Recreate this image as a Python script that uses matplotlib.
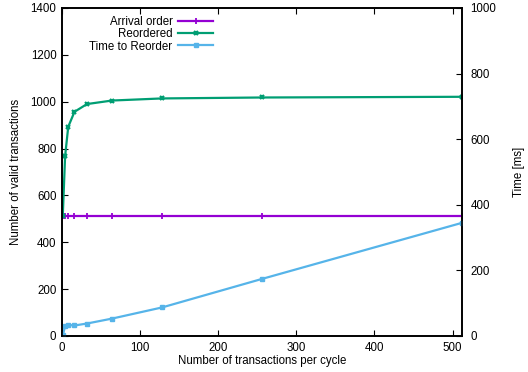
import matplotlib
matplotlib.use("Agg")
import matplotlib.pyplot as plt

plt.rcParams['font.family'] = ['Liberation Sans', 'DejaVu Sans']
plt.rcParams['font.size'] = 8.3

# transactions per cycle
tx_per_cycle = [1, 4, 8, 16, 32, 64, 128, 256, 512]
arrival_order = [512, 512, 512, 512, 512, 512, 512, 512, 512]
reordered = [512, 768, 893, 957, 990, 1005, 1014, 1018, 1021]
time_ms = [2, 30, 34, 32, 38, 53, 87, 174, 345]

purple = "#9400d3"
green = "#009e73"
blue = "#56b4e9"

fig = plt.figure(figsize=(5.28, 3.72), dpi=100)
ax = fig.add_axes([0.1174, 0.0968, 0.7576, 0.8817])
ax2 = ax.twinx()

l1, = ax.plot(tx_per_cycle, arrival_order, color=purple, lw=1.6, marker='+',
              ms=4, mew=1.3, label="Arrival order")
l2, = ax.plot(tx_per_cycle, reordered, color=green, lw=1.6, marker='x',
              ms=3.5, mew=1.6, label="Reordered")
l3, = ax2.plot(tx_per_cycle, time_ms, color=blue, lw=1.6, marker='s',
               ms=3.3, label="Time to Reorder")

ax.set_xlim(0, 512)
ax.set_ylim(0, 1400)
ax2.set_ylim(0, 1000)
ax.set_xticks(range(0, 501, 100))
ax.set_yticks(range(0, 1401, 200))
ax2.set_yticks(range(0, 1001, 200))

ax.tick_params(axis='x', direction='in', top=True, length=4, pad=4)
ax.tick_params(axis='y', direction='in', length=4, pad=4)
ax2.tick_params(axis='y', direction='in', length=4, pad=6)
for a in (ax, ax2):
    for s in a.spines.values():
        s.set_linewidth(1.2)

ax.set_xlabel("Number of transactions per cycle", labelpad=1)
ax.set_ylabel("Number of valid transactions", labelpad=6)
ax2.set_ylabel("Time [ms]", labelpad=12)

leg = ax.legend(handles=[l1, l2, l3], loc='upper right', bbox_to_anchor=(0.3975, 1.0),
                frameon=False, markerfirst=False, handlelength=3.0,
                handletextpad=0.5, labelspacing=0.02, borderaxespad=0.3)
for t in leg.get_texts():
    t.set_ha('right')
leg._legend_box.align = "right"

fig.savefig("out.png", dpi=100)
